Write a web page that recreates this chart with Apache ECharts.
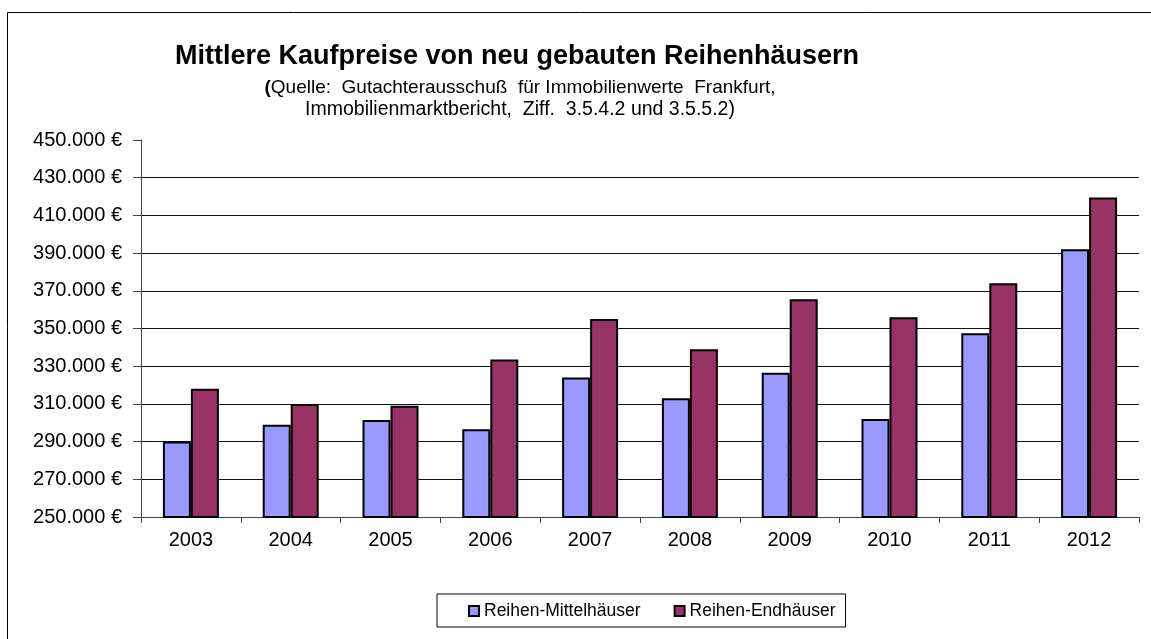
<!DOCTYPE html>
<html>
<head>
<meta charset="utf-8">
<title>Mittlere Kaufpreise</title>
<script src="https://cdn.jsdelivr.net/npm/echarts@6/dist/echarts.min.js"></script>
<style>
  html, body { margin: 0; padding: 0; background: #fff; }
  #chart { width: 1151px; height: 639px; }
</style>
</head>
<body>
<div id="chart"></div>
<script>
// Daten
const years = ['2003', '2004', '2005', '2006', '2007', '2008', '2009', '2010', '2011', '2012']
const mittelhaeuser = [290000, 299000, 301500, 296500, 324000, 313000, 326500, 302000, 347500, 392000]
const endhaeuser = [318000, 310000, 309000, 333500, 355000, 339000, 365500, 356000, 374000, 419500]
const seriesNames = ['Reihen-Mittelhäuser', 'Reihen-Endhäuser']

const FONT = '"Liberation Sans", Arial, sans-serif'

// 450000 -> "450.000 €"
const euro = (v) => String(v).replace(/\B(?=(\d{3})+(?!\d))/g, '.') + ' €'

const chart = echarts.init(document.getElementById('chart'))

const option = {
  animation: false,
  backgroundColor: '#fff',
  textStyle: { fontFamily: FONT },
  graphic: [
    // Rahmen um das ganze Diagramm
    {
      type: 'rect',
      shape: { x: 7.5, y: 12.5, width: 1200, height: 700 },
      style: { fill: 'none', stroke: '#000', lineWidth: 1 },
      silent: true
    },
    {
      type: 'text',
      x: 517, y: 57,
      style: {
        text: 'Mittlere Kaufpreise von neu gebauten Reihenhäusern',
        font: 'bold 27px ' + FONT,
        fill: '#000',
        align: 'center',
        verticalAlign: 'middle'
      }
    },
    {
      type: 'text',
      x: 520, y: 88,
      style: {
        text: '{b|(}Quelle:  Gutachterausschuß  für Immobilienwerte  Frankfurt,',
        font: '19px ' + FONT,
        fill: '#000',
        align: 'center',
        verticalAlign: 'middle',
        rich: { b: { font: 'bold 19px ' + FONT, fill: '#000' } }
      }
    },
    {
      type: 'text',
      x: 520, y: 110,
      style: {
        text: 'Immobilienmarktbericht,  Ziff.  3.5.4.2 und 3.5.5.2)',
        font: '19.5px ' + FONT,
        fill: '#000',
        align: 'center',
        verticalAlign: 'middle'
      }
    }
  ],
  legend: {
    data: seriesNames,
    left: 437,
    top: 594,
    padding: [8, 10, 7, 31],
    itemGap: 33,
    itemWidth: 10,
    itemHeight: 10,
    icon: 'rect',
    borderColor: '#000',
    borderWidth: 1,
    textStyle: { fontSize: 17.5, color: '#000', fontFamily: FONT }
  },
  grid: {
    left: 141,
    right: 12,
    top: 140,
    bottom: 122
  },
  xAxis: {
    type: 'category',
    data: years,
    axisLine: { lineStyle: { color: '#444', width: 1 } },
    axisTick: { show: true, length: 6, lineStyle: { color: '#444' } },
    axisLabel: { fontSize: 20, color: '#000', margin: 13, fontFamily: FONT },
    splitLine: { show: false }
  },
  yAxis: {
    type: 'value',
    min: 250000,
    max: 450000,
    interval: 20000,
    axisLine: { show: true, lineStyle: { color: '#444', width: 1 } },
    axisTick: { show: true, length: 8, lineStyle: { color: '#444' } },
    axisLabel: { fontSize: 20, color: '#000', margin: 19, fontFamily: FONT, formatter: euro },
    splitLine: {
      show: true,
      showMaxLine: false,
      lineStyle: { color: '#111', width: 1 }
    }
  },
  series: [
    {
      name: seriesNames[0],
      type: 'bar',
      data: mittelhaeuser,
      barWidth: 28,
      barGap: '0%',
      itemStyle: { color: '#9999FF', borderColor: '#000', borderWidth: 2 }
    },
    {
      name: seriesNames[1],
      type: 'bar',
      data: endhaeuser,
      barWidth: 28,
      barGap: '0%',
      itemStyle: { color: '#993366', borderColor: '#000', borderWidth: 2 }
    }
  ]
}

chart.setOption(option)
</script>
</body>
</html>
